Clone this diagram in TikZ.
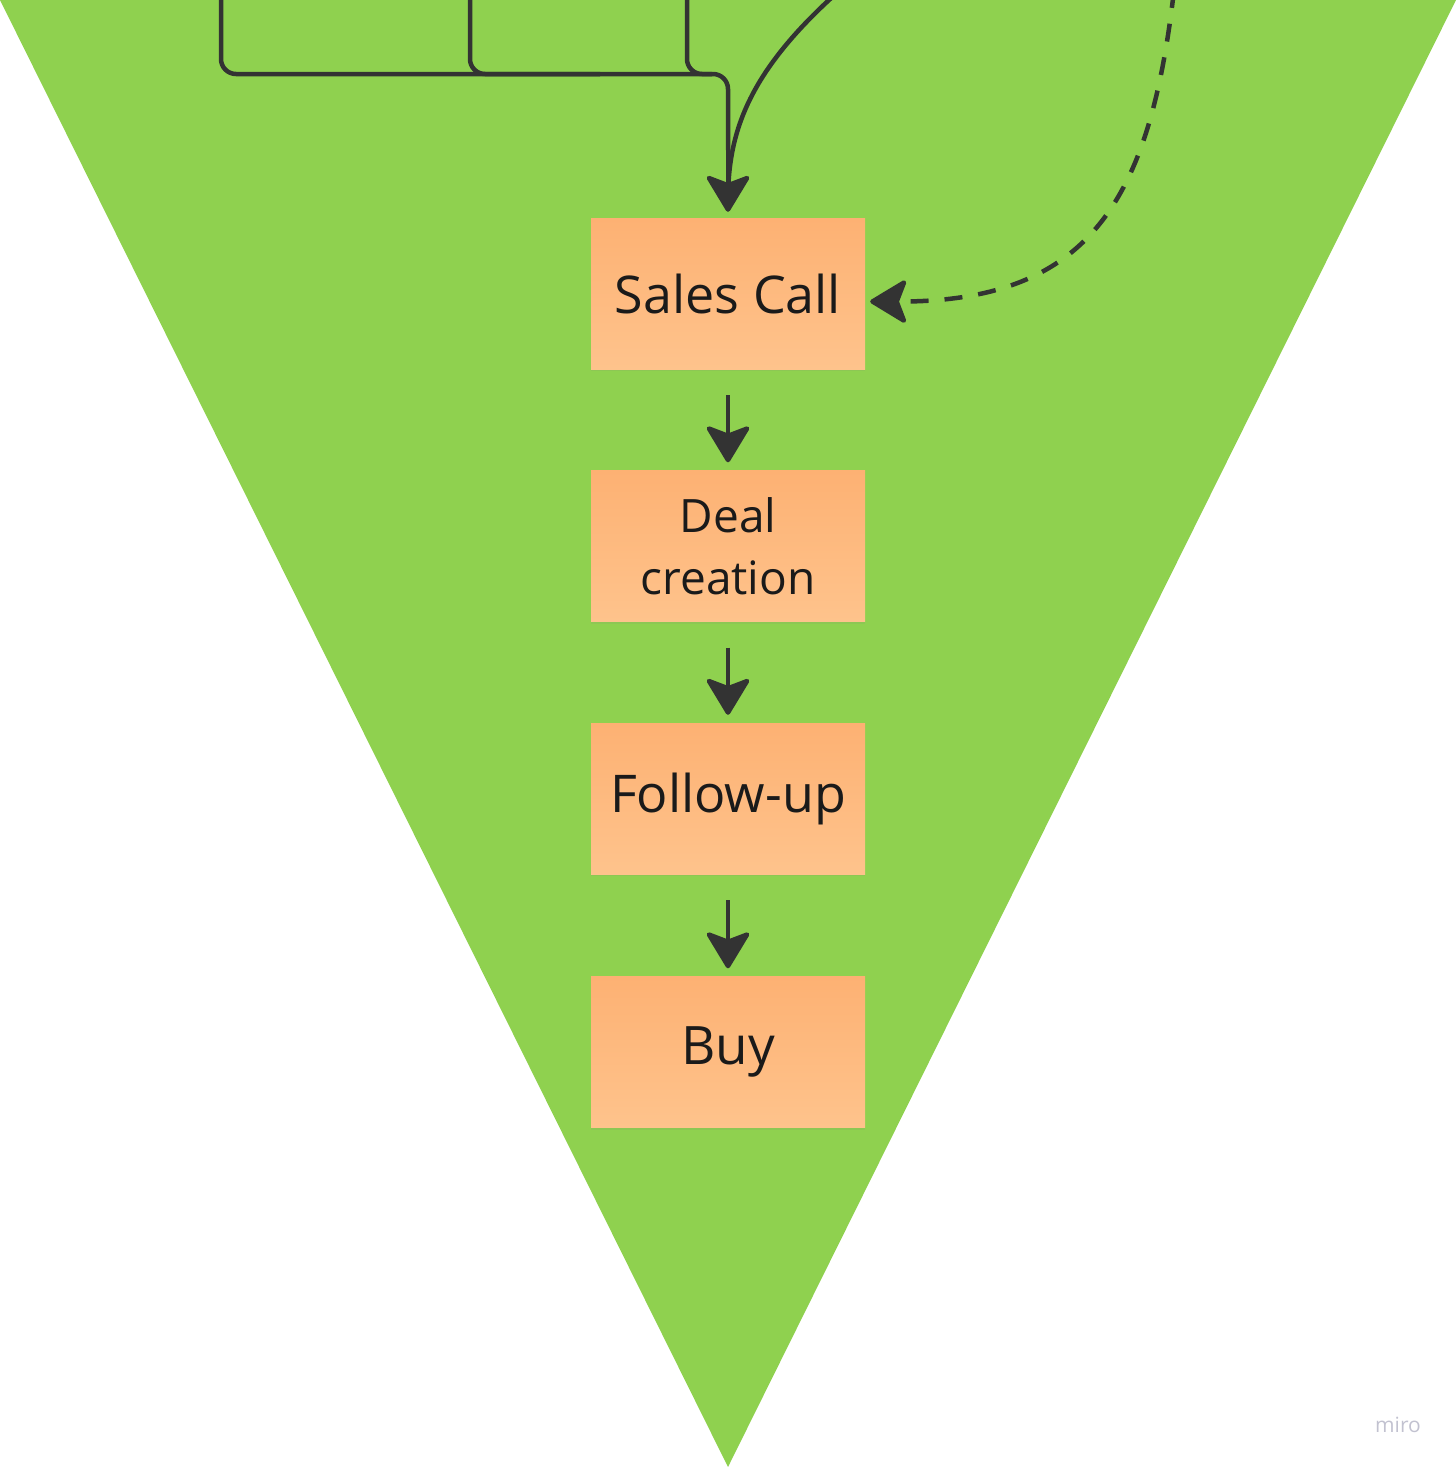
\documentclass[tikz,border=0pt]{standalone}
\usepackage{fontspec}
\setmainfont{Open Sans}
\usetikzlibrary{arrows.meta,shadows}
\definecolor{funnelgreen}{HTML}{8FD14F}
\definecolor{boxtop}{HTML}{FDB173}
\definecolor{boxbot}{HTML}{FEC38C}
\definecolor{ink}{HTML}{333333}
\definecolor{txt}{HTML}{1A1A1A}
\definecolor{logo}{HTML}{C2C2D0}
\tikzset{
  stage/.style={minimum width=274pt, minimum height=151pt, inner sep=0pt,
    top color=boxtop, bottom color=boxbot, text=txt, align=center,
    drop shadow={opacity=0.12, shadow xshift=0pt, shadow yshift=-2pt}},
  tipA/.style={-{Stealth[length=40pt,width=48pt,inset=9pt,round]}},
  arr/.style={draw=ink, line width=4.5pt, tipA},
  conn/.style={draw=ink, line width=4.5pt, rounded corners=15pt},
  dashconn/.style={draw=ink, line width=4.5pt, dash pattern=on 18pt off 16pt, tipA}
}
\begin{document}
\begin{tikzpicture}[x=1pt,y=-1pt]
\useasboundingbox (0,0) rectangle (1456,1467);
\begin{scope}
\clip (0,0) rectangle (1456,1467);
\fill[funnelgreen] (0,0) -- (1456,0) -- (728,1467) -- cycle;

\node[stage, font=\fontsize{52}{62}\selectfont] (sales) at (728,293.5) {Sales Call};
\node[stage, font=\fontsize{46}{62}\selectfont] (deal) at (728,546) {Deal\\creation};
\node[stage, font=\fontsize{52}{62}\selectfont] (follow) at (728,798.5) {Follow-up};
\node[stage, font=\fontsize{53}{62}\selectfont] (buy) at (728,1052) {Buy};

\coordinate (in1) at (221,-10);
\coordinate (in2) at (470,-10);
\coordinate (in3) at (687,-10);
\coordinate (in4) at (840,-10);
\coordinate (in5) at (1174,-10);

\draw[conn] (in1) -- (221,74) -- (728,74) -- (728,150);
\draw[conn] (in2) -- (470,74) -- (600,74);
\draw[conn] (in3) -- (687,74) -- (712,74);
\draw[arr] (728,140) -- ([yshift=6pt]sales.north);
\draw[draw=ink, line width=4.5pt] (in4) .. controls (750,70) and (728,130) .. (728,200);

\draw[dashconn] (in5) .. controls (1150,200) and (1090,302) .. ([xshift=5pt,yshift=-8pt]sales.east);

\draw[arr] ([yshift=-26pt]sales.south) -- ([yshift=8pt]deal.north);
\draw[arr] ([yshift=-26pt]deal.south) -- ([yshift=8pt]follow.north);
\draw[arr] ([yshift=-26pt]follow.south) -- ([yshift=8pt]buy.north);

\node[text=logo, font=\fontsize{21}{24}\selectfont, anchor=center] (miro) at (1398,1425) {miro};
\end{scope}
\end{tikzpicture}
\end{document}
